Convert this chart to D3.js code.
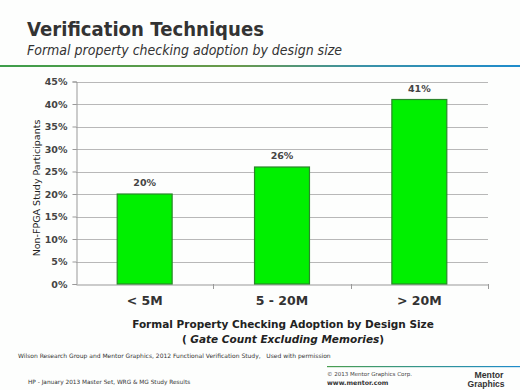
<!DOCTYPE html>
<html><head><meta charset="utf-8">
<script src="https://d3js.org/d3.v7.min.js"></script>
<style>body{margin:0;background:#fff}svg{display:block}</style>
</head><body>
<script>
const categories = ["< 5M", "5 - 20M", "> 20M"];
const values = [20, 26, 41];
const valueLabels = ["20%", "26%", "41%"];
const yTicks = [0, 5, 10, 15, 20, 25, 30, 35, 40, 45];

(function () {
const W = 520, H = 390;
const svg = d3.select("body").append("svg").attr("width", W).attr("height", H);
svg.append("rect").attr("width", W).attr("height", H).attr("fill", "#fdfefd");

const defs = svg.append("defs");
const g1 = defs.append("linearGradient").attr("id", "hdr").attr("x1", "0").attr("x2", "1");
g1.append("stop").attr("offset", "0").attr("stop-color", "#3d9e4a");
g1.append("stop").attr("offset", "0.45").attr("stop-color", "#6a9a4a");
g1.append("stop").attr("offset", "0.7").attr("stop-color", "#3a92a8");
g1.append("stop").attr("offset", "1").attr("stop-color", "#1f8ccc");
const g2 = defs.append("linearGradient").attr("id", "ftr").attr("x1", "0").attr("x2", "1");
g2.append("stop").attr("offset", "0").attr("stop-color", "#4a9e50");
g2.append("stop").attr("offset", "1").attr("stop-color", "#1f8ccc");

const FONT = "Verdana, 'DejaVu Sans', sans-serif";

// Title
svg.append("text").attr("x", 27).attr("y", 36).text("Verification Techniques")
  .attr("font-family", FONT).attr("font-weight", "bold")
  .attr("font-size", 19).attr("fill", "#333").attr("textLength", 237).attr("lengthAdjust", "spacingAndGlyphs");
svg.append("text").attr("x", 27).attr("y", 55).text("Formal property checking adoption by design size")
  .attr("font-family", FONT).attr("font-style", "italic")
  .attr("font-size", 14).attr("fill", "#333").attr("textLength", 315).attr("lengthAdjust", "spacingAndGlyphs");
svg.append("rect").attr("x", 0).attr("y", 65).attr("width", W).attr("height", 2).attr("fill", "url(#hdr)");

// Chart
const pL = 76, pR = 488, pT = 81.5, pB = 284;
const x = d3.scaleBand().domain(categories).range([pL, pR]).padding(0);
const y = d3.scaleLinear().domain([0, 45]).range([pB, pT]);

const grid = svg.append("g");
grid.selectAll("line").data(yTicks.filter(d => d > 0)).join("line")
  .attr("x1", pL).attr("x2", pR).attr("y1", d => Math.round(y(d)) + 0.5).attr("y2", d => Math.round(y(d)) + 0.5)
  .attr("stroke", "#b8b8b8").attr("stroke-width", 1);

const yAxis = svg.append("g").attr("transform", `translate(${pL + 0.5},0)`)
  .call(d3.axisLeft(y).tickValues(yTicks).tickFormat(d => d + "%").tickSize(4).tickPadding(5));
yAxis.select(".domain").attr("stroke", "#999");
yAxis.selectAll(".tick line").attr("stroke", "#999");
yAxis.selectAll("text").attr("font-family", FONT).attr("font-weight", "bold")
  .attr("font-size", 9.5).attr("fill", "#444");

const xAxis = svg.append("g").attr("transform", `translate(0,${pB + 0.5})`)
  .call(d3.axisBottom(x).tickSize(0).tickPadding(12));
xAxis.select(".domain").attr("stroke", "#999");
xAxis.selectAll("text").attr("font-family", FONT).attr("font-weight", "bold")
  .attr("font-size", 12.5).attr("fill", "#333");
svg.append("g").selectAll("line").data(categories).join("line")
  .attr("x1", d => Math.round(x(d) + x.step()) + 0.5)
  .attr("x2", d => Math.round(x(d) + x.step()) + 0.5)
  .attr("y1", pB).attr("y2", pB + 5).attr("stroke", "#999");

const bw = x.bandwidth() * 0.4;
const bars = svg.append("g");
bars.selectAll("rect").data(values).join("rect")
  .attr("x", (d, i) => x(categories[i]) + (x.bandwidth() - bw) / 2)
  .attr("y", d => y(d)).attr("width", bw).attr("height", d => pB - y(d))
  .attr("fill", "#00f000").attr("stroke", "#2a862a").attr("stroke-width", 1.2);
bars.selectAll("text").data(values).join("text")
  .attr("x", (d, i) => x(categories[i]) + x.bandwidth() / 2).attr("y", d => y(d) - 8)
  .attr("text-anchor", "middle").text((d, i) => valueLabels[i])
  .attr("font-family", FONT).attr("font-weight", "bold")
  .attr("font-size", 9.5).attr("fill", "#444");

// Y title
svg.append("text").attr("transform", "translate(40,188) rotate(-90)").attr("text-anchor", "middle")
  .text("Non-FPGA Study Participants").attr("font-family", FONT)
  .attr("font-size", 9.5).attr("fill", "#222");

// X title
svg.append("text").attr("x", 283).attr("y", 328).attr("text-anchor", "middle")
  .text("Formal Property Checking Adoption by Design Size")
  .attr("font-family", FONT).attr("font-weight", "bold")
  .attr("font-size", 10.5).attr("fill", "#222");
const t2 = svg.append("text").attr("x", 283).attr("y", 343).attr("text-anchor", "middle")
  .attr("font-family", FONT).attr("font-weight", "bold")
  .attr("font-size", 10.5).attr("fill", "#222");
t2.append("tspan").text("( ");
t2.append("tspan").attr("font-style", "italic").text("Gate Count Excluding Memories");
t2.append("tspan").text(")");

// Source
svg.append("text").attr("x", 18).attr("y", 358)
  .text("Wilson Research Group and Mentor Graphics, 2012 Functional Verification Study,   Used with permission")
  .attr("font-family", FONT).attr("font-size", 6).attr("fill", "#333")
  .style("white-space", "pre");

// Footer
svg.append("text").attr("x", 28).attr("y", 384)
  .text("HP - January 2013 Master Set, WRG & MG Study Results")
  .attr("font-family", FONT).attr("font-size", 5.8).attr("fill", "#333");
svg.append("rect").attr("x", 327).attr("y", 366).attr("width", W - 327).attr("height", 1.2).attr("fill", "url(#ftr)");
svg.append("text").attr("x", 327).attr("y", 376).text("© 2013 Mentor Graphics Corp.")
  .attr("font-family", FONT).attr("font-size", 5.5).attr("fill", "#444");
svg.append("text").attr("x", 327).attr("y", 385).text("www.mentor.com")
  .attr("font-family", FONT).attr("font-weight", "bold").attr("font-size", 6.3).attr("fill", "#333");
svg.append("text").attr("x", 489).attr("y", 378).attr("text-anchor", "middle").text("Mentor")
  .attr("font-family", "'Liberation Sans', Arial, sans-serif").attr("font-weight", "bold").attr("font-size", 8.5)
  .attr("fill", "#333").attr("textLength", 29).attr("lengthAdjust", "spacingAndGlyphs");
svg.append("text").attr("x", 486).attr("y", 387).attr("text-anchor", "middle").text("Graphics")
  .attr("font-family", "'Liberation Sans', Arial, sans-serif").attr("font-weight", "bold").attr("font-size", 8.5)
  .attr("fill", "#333").attr("textLength", 37).attr("lengthAdjust", "spacingAndGlyphs");
})();
</script>
</body></html>
